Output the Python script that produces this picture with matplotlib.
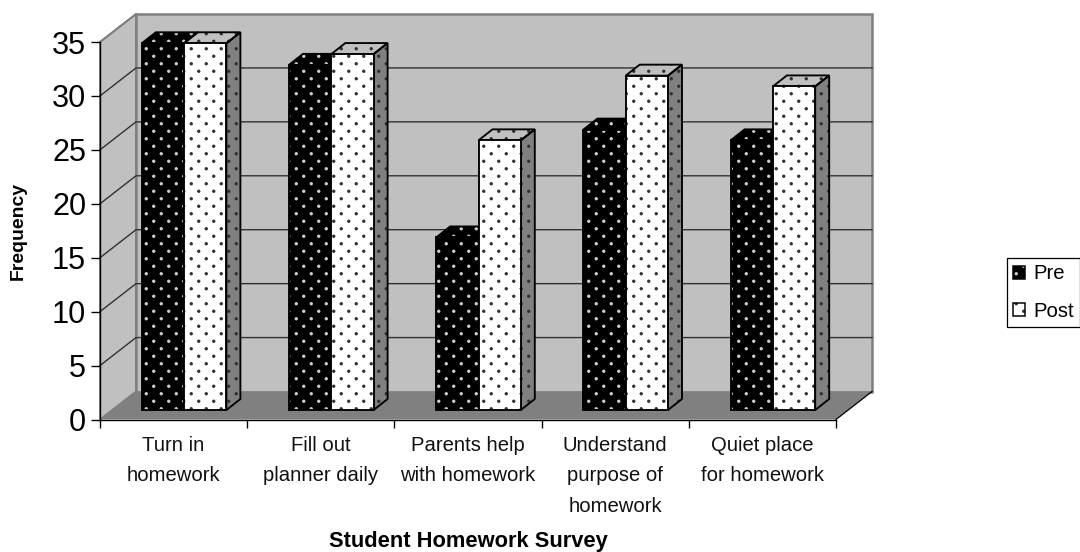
import matplotlib
matplotlib.use("Agg")
import matplotlib.pyplot as plt
from matplotlib import hatch as mhatch
from matplotlib.legend_handler import HandlerTuple
from matplotlib.patches import Polygon, Patch
from matplotlib.path import Path
import numpy as np

plt.rcParams['font.family'] = ['Liberation Sans', 'DejaVu Sans']

categories = ["Turn in\nhomework", "Fill out\nplanner daily", "Parents help\nwith homework",
              "Understand\npurpose of\nhomework", "Quiet place\nfor homework"]
pre = [34, 32, 16, 26, 25]
post = [34, 33, 25, 31, 30]
yticks = [0, 5, 10, 15, 20, 25, 30, 35]

W, H, DPI = 1080, 552, 90
L, R, T, B = 100, 836, 42, 419.5
px_x = 5 / (R - L)      # data units per pixel
px_y = 35 / (B - T)


# excel style dot pattern: 12 rows in the tile, 6 staggered dots in each
class DotHatch(mhatch.HatchPatternBase):
    rows, cols, radius = 12, 6, 0.0115

    def __init__(self, pattern, density):
        self.circle = Path.unit_circle()
        self.on = "." in (pattern or "")
        self.num_vertices = self.rows * self.cols * len(self.circle.vertices) if self.on else 0

    def set_vertices_and_codes(self, vertices, codes):
        n = len(self.circle.vertices)
        k = 0
        for r in range(self.rows):
            for c in range(self.cols):
                cx = (c + 0.25 + 0.5 * (r % 2)) / self.cols
                cy = (r + 0.5) / self.rows
                vertices[k:k + n] = self.circle.vertices * self.radius + [cx, cy]
                codes[k:k + n] = self.circle.codes
                k += n


mhatch._hatch_types = [DotHatch]

fig = plt.figure(figsize=(W / DPI, H / DPI), dpi=DPI)
ax = fig.add_axes([L / W, 1 - B / H, (R - L) / W, (B - T) / H])
ax.set_xlim(0, 5)
ax.set_ylim(0, 35)
ax.patch.set_visible(False)

# depth of the fake 3d box and of the bars
dx, dy = 36 * px_x, 28 * px_y
bx, by = 14 * px_x, 11 * px_y
shift_x, base = 10.5 * px_x, 9.5 * px_y
bw = 42.3 * px_x

WALL = "#c0c0c0"
FLOOR = "#808080"
DOT_DARK = "#303030"
DOT_LIGHT = "#d0d0d0"


def poly(pts, face, z, dots=None, edge="black", lw=1.5):
    if dots:
        ax.add_patch(Polygon(pts, closed=True, facecolor=face, edgecolor=dots, hatch=".", lw=0, zorder=z, clip_on=False))
    else:
        ax.add_patch(Polygon(pts, closed=True, facecolor=face, edgecolor="none", zorder=z, clip_on=False))
    if edge:
        ax.add_patch(Polygon(pts, closed=True, fill=False, edgecolor=edge, lw=lw, zorder=z + 0.1, clip_on=False))


# walls and floor
poly([(0, 0), (dx, dy), (dx, 35 + dy), (0, 35)], WALL, 1, edge=FLOOR, lw=1.5)
poly([(dx, dy), (5 + dx, dy), (5 + dx, 35 + dy), (dx, 35 + dy)], WALL, 1, edge=FLOOR, lw=2)
poly([(0, 0), (5, 0), (5 + dx, dy), (dx, dy)], FLOOR, 1.5, edge=None)
ax.plot([5, 5 + dx], [0, dy], color="black", lw=1, zorder=1.6, clip_on=False)

for t in yticks[1:-1]:
    ax.plot([0, dx, 5 + dx], [t, t + dy, t + dy], color=DOT_DARK, lw=1.1, zorder=1.2, clip_on=False)
ax.plot([0, dx], [35, 35 + dy], color=FLOOR, lw=1.5, zorder=1.2, clip_on=False)


def bar3d(x, v, face, dots, top_face, z):
    y0, y1 = base, base + v
    poly([(x + bw, y0), (x + bw + bx, y0 + by), (x + bw + bx, y1 + by), (x + bw, y1)], FLOOR, z, dots=DOT_DARK)
    poly([(x, y1), (x + bw, y1), (x + bw + bx, y1 + by), (x + bx, y1 + by)], top_face, z, dots=dots)
    ax.bar(x, v, bw, bottom=y0, align="edge", color=face, edgecolor=dots, hatch=".", lw=0, zorder=z + 0.2)
    ax.bar(x, v, bw, bottom=y0, align="edge", fill=False, edgecolor="black", lw=1.5, zorder=z + 0.3)


for i in range(len(categories)):
    x0 = i + 0.5 + shift_x - bw
    bar3d(x0, pre[i], "black", DOT_LIGHT, "black", 3 + i)
    bar3d(x0 + bw, post[i], "white", DOT_DARK, WALL, 3.5 + i)

for s in ["top", "right"]:
    ax.spines[s].set_visible(False)
for s in ["left", "bottom"]:
    ax.spines[s].set_linewidth(1.1)
    ax.spines[s].set_zorder(2)

ax.set_yticks(yticks)
ax.set_yticklabels([str(t) for t in yticks], fontsize=24.5)
ax.tick_params(axis="y", length=7, width=1.1, pad=4)
ax.set_xticks(np.arange(6))
ax.set_xticklabels([])
ax.tick_params(axis="x", length=6, width=1.1)
for i, c in enumerate(categories):
    ax.text(i + 0.5, 1 - (436 - T) / (B - T), c, transform=ax.get_xaxis_transform(), ha="center", va="top",
            fontsize=16.2, linespacing=1.76, color="#111111")

fig.text(18 / W, 1 - 231 / H, "Frequency", rotation=90, ha="center", va="center", fontsize=15.5, fontweight="bold")
fig.text(468 / W, 1 - 541 / H, "Student Homework Survey", ha="center", va="center", fontsize=17.5, fontweight="bold")

pre_key = (Patch(facecolor="black", edgecolor=DOT_LIGHT, hatch=".", lw=0), Patch(fill=False, edgecolor="black", lw=1.2))
post_key = (Patch(facecolor="white", edgecolor=DOT_DARK, hatch=".", lw=0), Patch(fill=False, edgecolor="black", lw=1.2))
leg = fig.legend([pre_key, post_key], ["Pre", "Post"], loc="center", bbox_to_anchor=(1043.5 / W, 1 - 292.5 / H),
                 fontsize=16.2, frameon=True, fancybox=False, edgecolor="black", framealpha=1,
                 handler_map={tuple: HandlerTuple(ndivide=1, pad=0)}, handlelength=0.6, handleheight=0.6,
                 handletextpad=0.4, labelspacing=0.9, borderpad=0.32, borderaxespad=0)
leg.get_frame().set_linewidth(1)

fig.savefig("out.png", dpi=DPI, facecolor="white")
